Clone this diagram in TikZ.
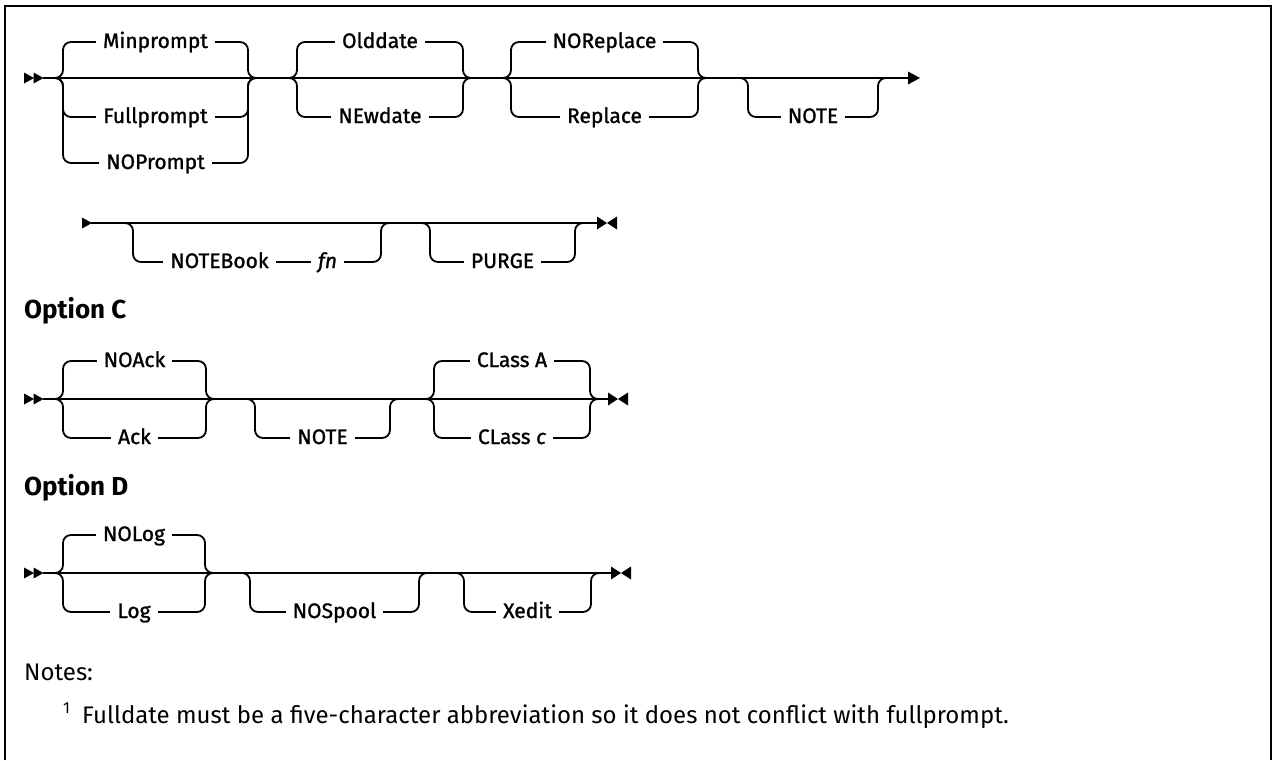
\documentclass[tikz,border=0pt]{standalone}
\usepackage{fontspec}
\setmainfont{Fira Sans}
\newfontfamily\lblfont[FakeBold=1.2]{Fira Sans}
\newcommand\rrbranch[6]{\draw[rail] (#1,#6) -- (#2,#6) -- (#2,#3) -- (#4,#3) -- (#4,#6) -- (#5,#6);}
\begin{document}
\begin{tikzpicture}[x=1pt,y=-1pt,
  rail/.style={line width=1.8pt, rounded corners=8pt, line join=round},
  lbl/.style={fill=white, inner xsep=7pt, inner ysep=1pt, anchor=base, font=\lblfont\fontsize{21}{24}\selectfont},
  head/.style={anchor=base west, inner sep=0pt, font=\bfseries\fontsize{26}{30}\selectfont},
  note/.style={anchor=base west, inner sep=0pt, font=\fontsize{24}{28}\selectfont},
  startmk/.pic={\fill (0,-5.5) -- (10,0) -- (0,5.5) -- cycle; \fill (9.5,-5.5) -- (19.5,0) -- (9.5,5.5) -- cycle;},
  contmk/.pic={\fill (0,-5.5) -- (10,0) -- (0,5.5) -- cycle;},
  endmk/.pic={\fill (0,-6.5) -- (10,0) -- (0,6.5) -- cycle; \fill (20,-6.5) -- (10,0) -- (20,6.5) -- cycle;},
  arrowmk/.pic={\fill (0,-6.5) -- (12,0) -- (0,6.5) -- cycle;}
]
\useasboundingbox (0,0) rectangle (1273,760);
% frame
\draw[line width=2pt] (5,760) -- (5,6) -- (1271,6) -- (1271,760);

% ---------- Row 1 ----------
\pic at (24,78) {startmk};
\draw[rail] (43,78) -- (908,78);
\rrbranch{53}{63}{42}{248}{258}{78}
\rrbranch{53}{63}{117}{248}{258}{78}
\rrbranch{53}{63}{163}{248}{258}{78}
\rrbranch{287}{297}{42}{463}{473}{78}
\rrbranch{287}{297}{117}{463}{473}{78}
\rrbranch{501}{511}{42}{698}{708}{78}
\rrbranch{501}{511}{117}{698}{708}{78}
\rrbranch{738}{748}{117}{878}{888}{78}
\pic at (908,78) {arrowmk};
\node[lbl] (minp) at (155.5,48) {Minprompt};
\node[lbl] (fullp) at (155.5,123) {Fullprompt};
\node[lbl] (nop) at (155.5,169) {NOPrompt};
\node[lbl] (oldd) at (380,48) {Olddate};
\node[lbl] (newd) at (380,123) {NEwdate};
\node[lbl] (norep) at (604.5,48) {NOReplace};
\node[lbl] (rep) at (604.5,123) {Replace};
\node[lbl] (note1) at (813,123) {NOTE};

% ---------- Row 2 ----------
\pic at (82,223) {contmk};
\draw[rail] (91,223) -- (597,223);
\rrbranch{123}{133}{262}{381}{391}{223}
\rrbranch{420}{430}{262}{575}{585}{223}
\pic at (597,223) {endmk};
\node[lbl] (nb) at (219.5,268) {NOTEBook};
\node[lbl] (fn) at (327.5,268) {\itshape fn};
\node[lbl] (purge) at (502.5,268) {PURGE};

% ---------- Option C ----------
\node[head] (optc) at (24,318) {Option C};
\pic at (24,399) {startmk};
\draw[rail] (43,399) -- (608,399);
\rrbranch{53}{63}{361}{206}{216}{399}
\rrbranch{53}{63}{438}{206}{216}{399}
\rrbranch{245}{255}{438}{390}{400}{399}
\rrbranch{424}{434}{361}{590}{600}{399}
\rrbranch{424}{434}{438}{590}{600}{399}
\pic at (608,399) {endmk};
\node[lbl] (noack) at (134.5,367) {NOAck};
\node[lbl] (ack) at (134.5,444) {Ack};
\node[lbl] (note2) at (322.5,444) {NOTE};
\node[lbl] (clA) at (512,367) {CLass A};
\node[lbl] (clc) at (512,444) {CLass \textit{c}};

% ---------- Option D ----------
\node[head] (optd) at (24,495) {Option D};
\pic at (24,573) {startmk};
\draw[rail] (43,573) -- (611,573);
\rrbranch{53}{63}{535}{205}{215}{573}
\rrbranch{53}{63}{612}{205}{215}{573}
\rrbranch{240}{250}{612}{419}{429}{573}
\rrbranch{454}{464}{612}{591}{601}{573}
\pic at (611,573) {endmk};
\node[lbl] (nolog) at (134,541) {NOLog};
\node[lbl] (log) at (134,618) {Log};
\node[lbl] (nospool) at (334.5,618) {NOSpool};
\node[lbl] (xedit) at (527.5,618) {Xedit};

% ---------- Notes ----------
\node[note] (notes) at (24,680) {Notes:};
\node[anchor=base west, inner sep=0pt, font=\fontsize{16}{18}\selectfont] (fnum) at (63,713) {1};
\node[note] (fntext) at (82,723) {Fulldate must be a five-character abbreviation so it does not conflict with fullprompt.};
\end{tikzpicture}
\end{document}
